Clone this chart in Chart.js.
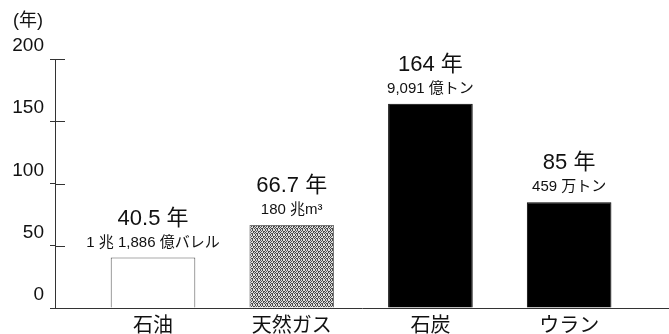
<!DOCTYPE html>
<html>
<head>
<meta charset="utf-8">
<script src="https://cdn.jsdelivr.net/npm/chart.js@4/dist/chart.umd.min.js"></script>
<style>
  body { margin: 0; background: #fff; }
  canvas { display: block; }
</style>
</head>
<body>
<canvas id="grafico" width="669" height="334"></canvas>
<script>
const categorias = ['石油', '天然ガス', '石炭', 'ウラン'];
const anios = [40.5, 66.7, 164, 85];
const etiquetasAnios = ['40.5 年', '66.7 年', '164 年', '85 年'];
const reservas = ['1 兆 1,886 億バレル', '180 兆m³', '9,091 億トン', '459 万トン'];
const ticksY = [0, 50, 100, 150, 200];

const fuente = "'Liberation Sans', 'Noto Sans CJK JP', sans-serif";

// textura punteada para el gas
function patronGris() {
    const mapa = [
        '#.#..',
        '.#.##',
        '#..#.',
        '.##.#',
        '#.#..'
    ];
    const c = document.createElement('canvas');
    c.width = 5; c.height = 5;
    const g = c.getContext('2d');
    g.fillStyle = '#dcdcdc';
    g.fillRect(0, 0, 5, 5);
    g.fillStyle = '#4a4a4a';
    mapa.forEach((fila, y) => {
        for (let x = 0; x < fila.length; x++) {
            if (fila[x] === '#') g.fillRect(x, y, 1, 1);
        }
    });
    return g.createPattern(c, 'repeat');
}

const etiquetas = {
    id: 'etiquetas',
    afterDatasetsDraw(chart) {
        const ctx = chart.ctx;
        const meta = chart.getDatasetMeta(0);
        ctx.save();
        ctx.fillStyle = '#111';
        ctx.textAlign = 'center';
        ctx.textBaseline = 'middle';
        meta.data.forEach((barra, i) => {
            ctx.font = '22px ' + fuente;
            ctx.fillText(etiquetasAnios[i], barra.x, barra.y - 39);
            ctx.font = '15px ' + fuente;
            ctx.fillText(reservas[i], barra.x, barra.y - 15);
        });
        // marcas del eje y hacia dentro
        const y = chart.scales.y;
        ctx.strokeStyle = '#333';
        ctx.lineWidth = 1;
        ticksY.forEach(v => {
            if (v === 0) return;
            const py = Math.round(y.getPixelForValue(v)) + 0.5;
            ctx.beginPath();
            ctx.moveTo(y.right, py);
            ctx.lineTo(y.right + 10, py);
            ctx.stroke();
        });
        ctx.font = '18px ' + fuente;
        ctx.textAlign = 'left';
        ctx.fillText('(年)', 13, 21);
        ctx.restore();
    }
};

new Chart(document.getElementById('grafico'), {
    type: 'bar',
    data: {
        datasets: [{
            data: anios.map((v, i) => ({ x: i, y: v })),
            backgroundColor: ['#ffffff', patronGris(), '#000000', '#000000'],
            borderColor: ['#555555', '#777777', '#000000', '#000000'],
            borderWidth: 1,
            categoryPercentage: 1,
            barPercentage: 0.61
        }]
    },
    options: {
        responsive: false,
        animation: false,
        devicePixelRatio: 1,
        layout: { padding: { top: 59, right: 0, bottom: 0, left: 0 } },
        plugins: {
            legend: { display: false },
            tooltip: { enabled: false }
        },
        scales: {
            x: {
                type: 'linear',
                offset: false,
                min: -0.7066,
                max: 3.72,
                afterBuildTicks: s => { s.ticks = categorias.map((c, i) => ({ value: i })); },
                afterFit: s => { s.height = 26; },
                grid: { display: false },
                border: { display: true, color: '#333', width: 1 },
                ticks: {
                    padding: -2,
                    color: '#111',
                    font: { family: fuente, size: 20 },
                    callback: v => categorias[v] ?? ''
                }
            },
            y: {
                min: 0,
                max: 200,
                afterBuildTicks: s => { s.ticks = ticksY.map(v => ({ value: v })); },
                afterFit: s => { s.width = 55; },
                grid: { drawOnChartArea: false, drawTicks: true, tickLength: 5, color: '#333' },
                border: { display: true, color: '#333', width: 1 },
                ticks: {
                    padding: 6,
                    labelOffset: -13,
                    color: '#111',
                    font: { family: fuente, size: 19 }
                }
            }
        }
    },
    plugins: [etiquetas]
});
</script>
</body>
</html>
